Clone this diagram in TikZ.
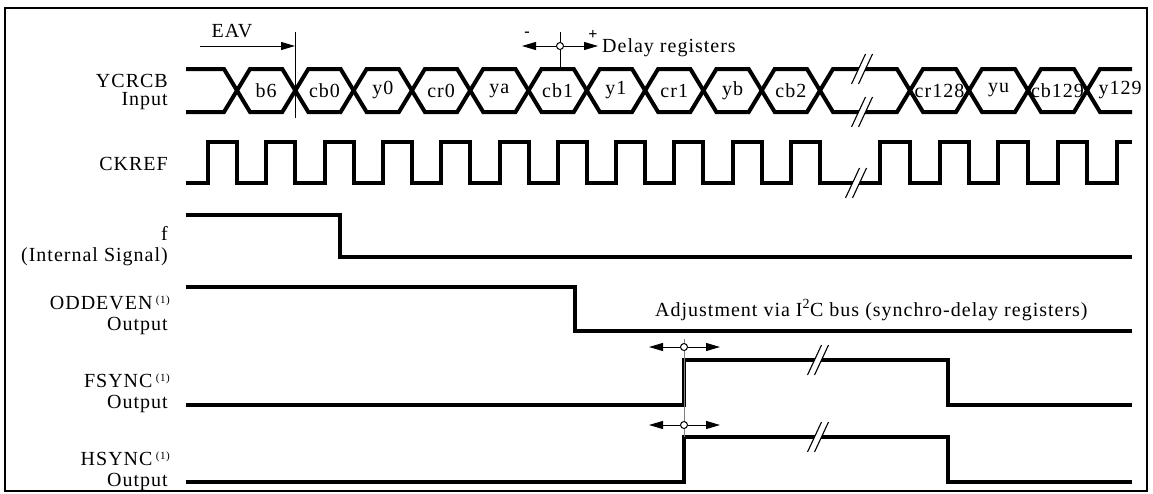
\documentclass[tikz,border=0pt]{standalone}
\usepackage{fontspec}
\setmainfont{Liberation Serif}
\usetikzlibrary{arrows.meta}
\newcommand{\supone}{\,\raisebox{6pt}{\fontsize{11}{11}\selectfont(1)}}
\newcommand{\lsfont}{\fontsize{20}{22}\selectfont\addfontfeatures{LetterSpace=5}}
\begin{document}
\begin{tikzpicture}[x=1pt,y=-1pt,
  sig/.style={line width=4pt, line join=miter, miter limit=10},
  fine/.style={line width=1pt},
  lbl/.style={font=\lsfont, anchor=east, inner sep=0pt},
  cell/.style={font=\lsfont, inner sep=0pt},
  txt/.style={font=\lsfont, anchor=west, inner sep=0pt},
  tip/.style={-{Triangle[length=14pt,width=8pt]}},
  brk/.pic={
    \fill[white] (-6.3,6) -- (-0.7,-6) -- (6.3,-6) -- (0.7,6) -- cycle;
    \draw[line width=1.1pt] (-10.5,15) -- (3.5,-15);
    \draw[line width=1.1pt] (-3.5,15) -- (10.5,-15);
  },
]
\useasboundingbox (0,0) rectangle (1153,493);
\draw[line width=1.5pt] (5,8) rectangle (1147,491);

\def\T{69}\def\B{112}\def\M{90.5}\def\h{13}
% ---------------- YCRCB bus
\draw[sig] (186,\T) -- (224,\T) -- (237,\M) -- (224,\B) -- (186,\B);
\foreach \a/\b/\t [count=\k] in {237/295.3/b6, 295.3/353.6/cb0, 353.6/411.9/y0,
   411.9/470.2/cr0, 470.2/528.5/ya, 528.5/586.8/cb1, 586.8/645.1/y1,
   645.1/703.4/cr1, 703.4/761.7/yb, 761.7/820/cb2, 820/910/{},
   910/969/cr128, 969/1028/yu, 1028/1087/cb129}{
  \draw[sig] (\a,\M) -- (\a+\h,\T) -- (\b-\h,\T) -- (\b,\M) -- (\b-\h,\B) -- (\a+\h,\B) -- cycle;
  \node[cell] (c\k) at ({(\a+\b)/2},\M) {\t};
}
\draw[sig] (1132,\T) -- (1100,\T) -- (1087,\M) -- (1100,\B) -- (1132,\B);
\node[cell] (c15) at (1120,\M) {y129};
\pic at (862,\T) {brk};
\pic at (862,\B) {brk};

% EAV marker
\coordinate (eavT) at (295,32);
\coordinate (eavB) at (295,118);
\draw[fine] (eavT) -- (eavB);
\coordinate (eavS) at (200,46);
\draw[fine,tip] (eavS) -- (eavS -| eavT);
\node[font=\lsfont, inner sep=0pt] (eav) at (232,31) {EAV};

% Delay registers marker
\coordinate (dT) at (560,32);
\coordinate (dB) at (560,68);
\draw[fine] (dT) -- (dB);
\node[circle, draw, fill=white, fine, minimum size=7pt, inner sep=0pt] (dc) at (560,46) {};
\coordinate (dL) at (522,46);
\coordinate (dR) at (598,46);
\draw[fine,tip] (dc) -- (dL);
\draw[fine,tip] (dc) -- (dR);
\node[font=\fontsize{16}{16}\selectfont\bfseries, inner sep=0pt] (minus) at (527,34) {-};
\node[font=\fontsize{16}{16}\selectfont\bfseries, inner sep=0pt] (plus) at (593,35) {+};
\node[txt] (dreg) at (602,48) {Delay registers};

% ---------------- CKREF
\draw[sig] (186,183)
  foreach \i in {0,...,10}{ -- ({208+58.3*\i},183) -- ({208+58.3*\i},142) -- ({237+58.3*\i},142) -- ({237+58.3*\i},183) }
  -- (880,183) -- (880,142) -- (910,142) -- (910,183) -- (940,183) -- (940,142) -- (969,142) -- (969,183)
  -- (998,183) -- (998,142) -- (1028,142) -- (1028,183) -- (1058,183) -- (1058,142) -- (1087,142) -- (1087,183)
  -- (1117,183) -- (1117,142) -- (1132,142);
\pic at (856,183) {brk};

% ---------------- f
\draw[sig] (186,215) -- (340,215) -- (340,257) -- (1132,257);
% ---------------- ODDEVEN
\draw[sig] (186,287) -- (575,287) -- (575,331) -- (1132,331);
\node[txt] (adj) at (655,310) {Adjustment via I\textsuperscript{2}C bus (synchro-delay registers)};
% ---------------- FSYNC
\draw[sig] (186,405) -- (684,405) -- (684,360) -- (948,360) -- (948,405) -- (1132,405);
\pic at (818,360) {brk};
% ---------------- HSYNC
\draw[sig] (186,482) -- (684,482) -- (684,437) -- (948,437) -- (948,482) -- (1132,482);
\pic at (818,437) {brk};

% sync markers
\coordinate (sT) at (684,339);
\coordinate (sB) at (684,437);
\draw[fine, gray] (sT) -- (sB);
\node[circle, draw, fill=white, fine, minimum size=7pt, inner sep=0pt] (fc) at (684,347) {};
\node[circle, draw, fill=white, fine, minimum size=7pt, inner sep=0pt] (hc) at (684,425) {};
\coordinate (fL) at (649,347);\coordinate (fR) at (720,347);
\coordinate (hL) at (649,425);\coordinate (hR) at (720,425);
\draw[fine,tip] (fc) -- (fL);
\draw[fine,tip] (fc) -- (fR);
\draw[fine,tip] (hc) -- (hL);
\draw[fine,tip] (hc) -- (hR);

% ---------------- labels
\node[lbl] (l1) at (168,81) {YCRCB};
\node[lbl] (l2) at (168,101) {Input};
\node[lbl] (l3) at (168,164) {CKREF};
\node[lbl] (l4) at (168,233) {f};
\node[lbl] (l5) at (168,257) {(Internal Signal)};
\node[lbl] (l6) at (170,303) {ODDEVEN\supone};
\node[lbl] (l7) at (168,326) {Output};
\node[lbl] (l8) at (170,381) {FSYNC\supone};
\node[lbl] (l9) at (168,404) {Output};
\node[lbl] (l10) at (170,459) {HSYNC\supone};
\node[lbl] (l11) at (168,482) {Output};
\end{tikzpicture}
\end{document}
